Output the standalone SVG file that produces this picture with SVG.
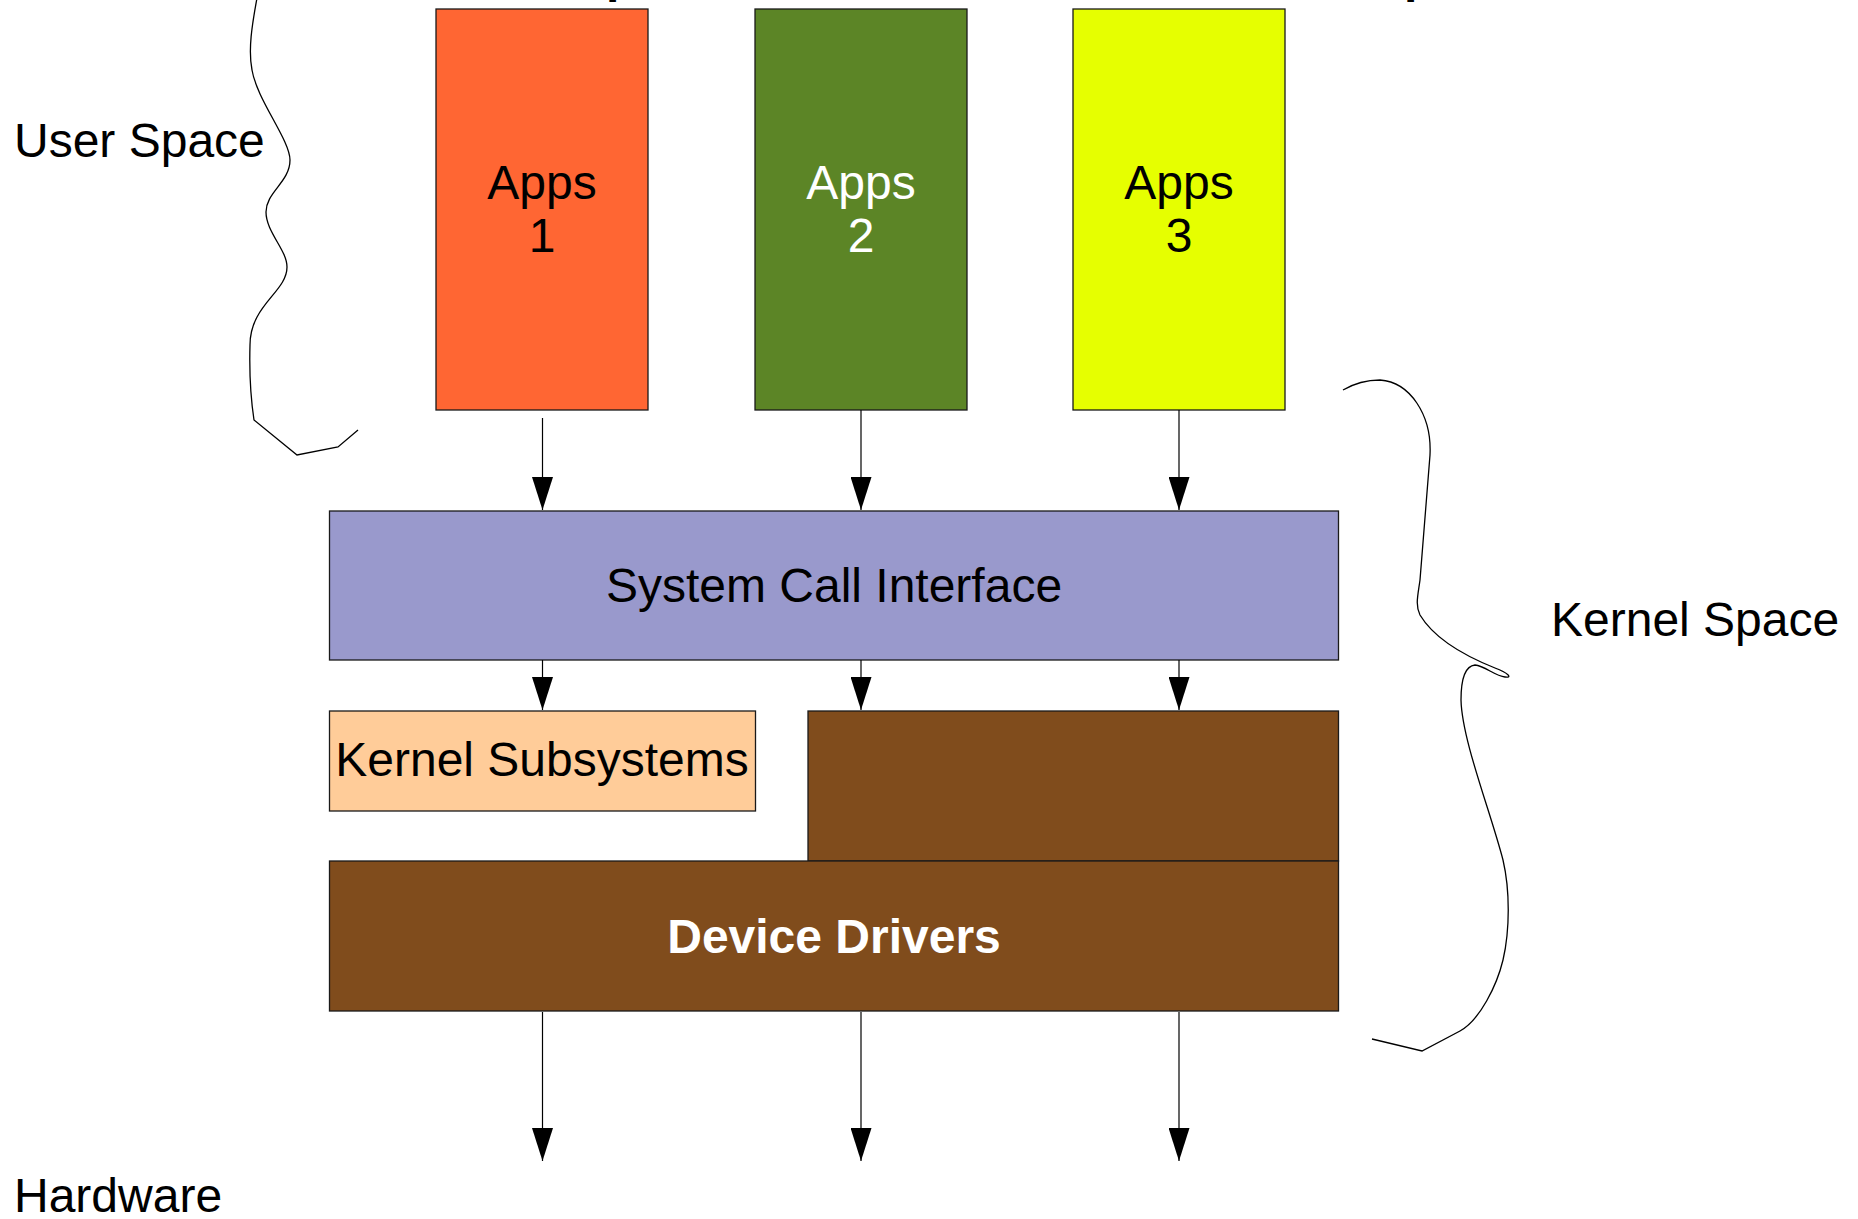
<svg xmlns="http://www.w3.org/2000/svg" width="1858" height="1219" viewBox="0 0 1858 1219">
<style>
text{font-family:"Liberation Sans",Arial,sans-serif;font-size:48px;fill:#000}
.box{stroke:#1a1a1a;stroke-width:1.3}
.w{fill:#fff}
.b{font-weight:bold}
.conn line{stroke:#000;stroke-width:1.2}
.brace{fill:none;stroke:#000;stroke-width:1.3}
</style>
<defs>
<marker id="ah" viewBox="0 0 33 21" refX="33" refY="10.5" markerWidth="33" markerHeight="21" markerUnits="userSpaceOnUse" orient="auto">
<path d="M0,0 L33,10.5 L0,21 Z" fill="#000"/>
</marker>
</defs>
<rect width="1858" height="1219" fill="#fff"/>
<g id="title-fragment">
<text class="b" x="606" y="-8" font-size="68">p</text>
<text class="b" x="1404" y="-8" font-size="68">p</text>
</g>
<g id="user-space-brace">
<path class="brace" d="M257,-2 C252,25 248,50 252,70 C257,100 290,140 290,160 C290,182 266,192 266,212 C266,232 287,250 287,267 C287,292 250,305 250,345 C249,380 251,400 254,420 L297,455 L338,447 L358,430"/>
<text x="14" y="157">User Space</text>
</g>
<g id="kernel-space-brace">
<path class="brace" d="M1343,390 C1355,383 1365,380 1380,380 C1410,382 1432,415 1430,455 L1420,580 C1418,595 1415,605 1420,615 C1435,640 1470,658 1495,668 C1508,673 1513,678 1505,677 C1495,676 1485,666 1475,665 C1465,666 1461,680 1461,700 C1462,740 1490,810 1503,860 C1510,890 1510,930 1503,960 C1497,985 1480,1020 1460,1031 L1422,1051 L1372,1039"/>
<text x="1551" y="636">Kernel Space</text>
</g>
<g id="hardware">
<text x="14" y="1212">Hardware</text>
</g>
<g id="apps1">
<rect class="box" x="436" y="9" width="212" height="401" fill="#ff6633"/>
<text x="542" y="199" text-anchor="middle">Apps</text>
<text x="542" y="252" text-anchor="middle">1</text>
</g>
<g id="apps2">
<rect class="box" x="755" y="9" width="212" height="401" fill="#5c8526"/>
<text class="w" x="861" y="199" text-anchor="middle">Apps</text>
<text class="w" x="861" y="252" text-anchor="middle">2</text>
</g>
<g id="apps3">
<rect class="box" x="1073" y="9" width="212" height="401" fill="#e6ff00"/>
<text x="1179" y="199" text-anchor="middle">Apps</text>
<text x="1179" y="252" text-anchor="middle">3</text>
</g>
<g id="sci">
<rect class="box" x="329.5" y="511" width="1009" height="149" fill="#9999cc"/>
<text x="834" y="602" text-anchor="middle">System Call Interface</text>
</g>
<g id="kernel-subsystems">
<rect class="box" x="329.5" y="711" width="426" height="100" fill="#ffcc99"/>
<text x="542" y="776" text-anchor="middle">Kernel Subsystems</text>
</g>
<g id="brown-block">
<rect class="box" x="808" y="711" width="530.5" height="150" fill="#804c1c"/>
</g>
<g id="device-drivers">
<rect class="box" x="329.5" y="861" width="1009" height="150" fill="#804c1c"/>
<text class="w b" x="834" y="953" text-anchor="middle">Device Drivers</text>
</g>
<g class="conn" id="connectors">
<line x1="542.5" y1="418" x2="542.5" y2="510" marker-end="url(#ah)"/>
<line x1="861" y1="410" x2="861" y2="510" marker-end="url(#ah)"/>
<line x1="1179" y1="410" x2="1179" y2="510" marker-end="url(#ah)"/>
<line x1="542.5" y1="660" x2="542.5" y2="710" marker-end="url(#ah)"/>
<line x1="861" y1="660" x2="861" y2="710" marker-end="url(#ah)"/>
<line x1="1179" y1="660" x2="1179" y2="710" marker-end="url(#ah)"/>
<line x1="542.5" y1="1012" x2="542.5" y2="1161" marker-end="url(#ah)"/>
<line x1="861" y1="1012" x2="861" y2="1161" marker-end="url(#ah)"/>
<line x1="1179" y1="1012" x2="1179" y2="1161" marker-end="url(#ah)"/>
</g>
</svg>
